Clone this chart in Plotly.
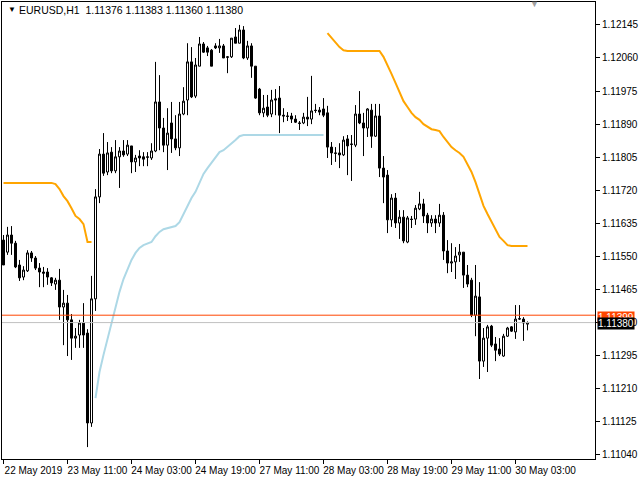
import plotly.graph_objects as go

# ---------------- data (EURUSD, H1) ----------------
opens = [
    1.11592, 1.11561, 1.11605, 1.11584, 1.11528, 1.11497, 1.11513, 1.11559, 1.11546, 1.11520,
    1.11510, 1.11510, 1.11495, 1.11479, 1.11489, 1.11420, 1.11430, 1.11387, 1.11340, 1.11348,
    1.11379, 1.11353, 1.11122, 1.11441, 1.11703, 1.11813, 1.11767, 1.11818, 1.11770, 1.11806,
    1.11821, 1.11813, 1.11834, 1.11793, 1.11808, 1.11806, 1.11806, 1.11803, 1.11821, 1.11947,
    1.11880, 1.11836, 1.11893, 1.11852, 1.11829, 1.11916, 1.11952, 1.12050, 1.11962, 1.12039,
    1.12096, 1.12086, 1.12080, 1.12091, 1.12086, 1.12091, 1.12063, 1.12063, 1.12114, 1.12098,
    1.12132, 1.12060, 1.12091, 1.12039, 1.11980, 1.11919, 1.11934, 1.11916, 1.11955, 1.11957,
    1.11913, 1.11911, 1.11911, 1.11903, 1.11893, 1.11893, 1.11908, 1.11903, 1.11926, 1.11926,
    1.11929, 1.11919, 1.11831, 1.11816, 1.11816, 1.11811, 1.11852, 1.11839, 1.11836, 1.11916,
    1.11893, 1.11880, 1.11926, 1.11859, 1.11911, 1.11777, 1.11759, 1.11644, 1.11700, 1.11636,
    1.11651, 1.11587, 1.11646, 1.11646, 1.11672, 1.11685, 1.11656, 1.11636, 1.11646, 1.11636,
    1.11656, 1.11564, 1.11533, 1.11536, 1.11554, 1.11561, 1.11502, 1.11489, 1.11399, 1.11446,
    1.11281, 1.11340, 1.11371, 1.11325, 1.11312, 1.11294, 1.11345, 1.11369, 1.11356, 1.11389,
    1.11389, 1.11376,
]
highs = [
    1.11605, 1.11626, 1.11628, 1.11590, 1.11541, 1.11525, 1.11566, 1.11564, 1.11551, 1.11533,
    1.11523, 1.11520, 1.11497, 1.11495, 1.11518, 1.11464, 1.11451, 1.11402, 1.11366, 1.11387,
    1.11430, 1.11363, 1.11500, 1.11723, 1.11826, 1.11867, 1.11844, 1.11831, 1.11849, 1.11831,
    1.11849, 1.11849, 1.11834, 1.11811, 1.11823, 1.11818, 1.11818, 1.11841, 1.12050, 1.12016,
    1.11906, 1.11931, 1.11947, 1.11913, 1.11947, 1.11985, 1.12098, 1.12088, 1.12060, 1.12114,
    1.12101, 1.12091, 1.12083, 1.12098, 1.12109, 1.12096, 1.12065, 1.12111, 1.12137, 1.12145,
    1.12142, 1.12104, 1.12098, 1.12039, 1.11983, 1.11965, 1.11965, 1.11978, 1.11980, 1.11988,
    1.11931, 1.11921, 1.11919, 1.11913, 1.11898, 1.11919, 1.11960, 1.12014, 1.11942, 1.11934,
    1.11957, 1.11937, 1.11844, 1.11831, 1.11841, 1.11859, 1.11862, 1.11862, 1.11939, 1.11975,
    1.11919, 1.11931, 1.11942, 1.11942, 1.11942, 1.11808, 1.11772, 1.11710, 1.11713, 1.11669,
    1.11669, 1.11654, 1.11654, 1.11682, 1.11716, 1.11698, 1.11662, 1.11656, 1.11656, 1.11685,
    1.11664, 1.11592, 1.11584, 1.11574, 1.11582, 1.11561, 1.11528, 1.11495, 1.11528, 1.11484,
    1.11366, 1.11374, 1.11374, 1.11343, 1.11340, 1.11351, 1.11369, 1.11371, 1.11425, 1.11425,
    1.11394, 1.11383,
]
lows = [
    1.11528, 1.11554, 1.11554, 1.11520, 1.11487, 1.11489, 1.11510, 1.11536, 1.11515, 1.11471,
    1.11471, 1.11477, 1.11474, 1.11464, 1.11387, 1.11322, 1.11294, 1.11284, 1.11315, 1.11315,
    1.11315, 1.11060, 1.11112, 1.11410, 1.11687, 1.11757, 1.11759, 1.11764, 1.11764, 1.11726,
    1.11806, 1.11808, 1.11764, 1.11767, 1.11782, 1.11782, 1.11782, 1.11798, 1.11818, 1.11823,
    1.11818, 1.11772, 1.11816, 1.11823, 1.11808, 1.11913, 1.11913, 1.11957, 1.11957, 1.12039,
    1.12073, 1.12065, 1.12039, 1.12083, 1.12073, 1.12060, 1.12021, 1.12060, 1.12098, 1.12098,
    1.12057, 1.12055, 1.12009, 1.11955, 1.11913, 1.11908, 1.11908, 1.11908, 1.11913, 1.11867,
    1.11895, 1.11898, 1.11893, 1.11893, 1.11875, 1.11890, 1.11885, 1.11890, 1.11919, 1.11913,
    1.11908, 1.11803, 1.11785, 1.11793, 1.11777, 1.11808, 1.11759, 1.11744, 1.11831, 1.11890,
    1.11808, 1.11857, 1.11829, 1.11857, 1.11754, 1.11687, 1.11610, 1.11626, 1.11623, 1.11595,
    1.11584, 1.11584, 1.11623, 1.11631, 1.11669, 1.11636, 1.11610, 1.11626, 1.11610, 1.11626,
    1.11541, 1.11507, 1.11510, 1.11492, 1.11536, 1.11469, 1.11471, 1.11394, 1.11345, 1.11235,
    1.11266, 1.11253, 1.11317, 1.11281, 1.11294, 1.11292, 1.11343, 1.11356, 1.11338, 1.11387,
    1.11333, 1.11360,
]
closes = [
    1.11528, 1.11605, 1.11584, 1.11523, 1.11495, 1.11515, 1.11559, 1.11546, 1.11520, 1.11510,
    1.11507, 1.11497, 1.11482, 1.11489, 1.11420, 1.11430, 1.11387, 1.11340, 1.11345, 1.11379,
    1.11348, 1.11122, 1.11441, 1.11703, 1.11813, 1.11764, 1.11816, 1.11770, 1.11806, 1.11821,
    1.11811, 1.11836, 1.11793, 1.11803, 1.11803, 1.11800, 1.11805, 1.11821, 1.11947, 1.11880,
    1.11836, 1.11867, 1.11852, 1.11829, 1.11916, 1.11949, 1.12050, 1.11960, 1.12042, 1.12096,
    1.12075, 1.12075, 1.12039, 1.12086, 1.12091, 1.12060, 1.12062, 1.12111, 1.12098, 1.12132,
    1.12060, 1.12091, 1.12039, 1.11957, 1.11919, 1.11931, 1.11913, 1.11952, 1.11952, 1.11913,
    1.11911, 1.11910, 1.11903, 1.11895, 1.11892, 1.11908, 1.11903, 1.11924, 1.11925, 1.11921,
    1.11913, 1.11831, 1.11816, 1.11815, 1.11811, 1.11849, 1.11834, 1.11838, 1.11916, 1.11893,
    1.11880, 1.11929, 1.11859, 1.11911, 1.11777, 1.11754, 1.11644, 1.11700, 1.11636, 1.11651,
    1.11590, 1.11649, 1.11645, 1.11674, 1.11685, 1.11654, 1.11636, 1.11646, 1.11636, 1.11656,
    1.11564, 1.11533, 1.11536, 1.11551, 1.11561, 1.11502, 1.11479, 1.11399, 1.11448, 1.11281,
    1.11340, 1.11369, 1.11322, 1.11309, 1.11299, 1.11345, 1.11366, 1.11358, 1.11389, 1.11390,
    1.11379, 1.11380,
]

# trend indicator: upper (orange) and lower (light blue) lines, None where not drawn
trend_upper = (
    [1.11739] * 13
    + [1.11736, 1.11723, 1.11705, 1.11692, 1.11674, 1.11654, 1.11646, 1.11633, 1.11587, 1.11587]
    + [None] * 58
    + [1.12124, 1.12111, 1.12098, 1.12088, 1.12080]
    + [1.12078] * 9
    + [1.12063, 1.12039, 1.12019, 1.11996, 1.11973, 1.11949, 1.11934, 1.11919, 1.11908, 1.11901,
       1.11890, 1.11883, 1.11877, 1.11875, 1.11872, 1.11857, 1.11844, 1.11831, 1.11823, 1.11816,
       1.11806, 1.11788, 1.11767, 1.11741, 1.11708, 1.11680, 1.11659, 1.11638, 1.11618, 1.11600,
       1.11590, 1.11579]
    + [1.11577] * 5
)
trend_lower = (
    [None] * 23
    + [1.11186, 1.11253, 1.11297, 1.11338, 1.11376, 1.11417, 1.11459, 1.11492, 1.11518, 1.11541,
       1.11559, 1.11572, 1.11579, 1.11584, 1.11587, 1.11602, 1.11613, 1.11620, 1.11623, 1.11626,
       1.11628, 1.11638, 1.11659, 1.11680, 1.11700, 1.11716, 1.11739, 1.11762, 1.11777, 1.11790,
       1.11806, 1.11818, 1.11823, 1.11831, 1.11839, 1.11849, 1.11859]
    + [1.11862] * 21
    + [None] * 51
)

time_label_bars = [0, 16, 32, 48, 64, 80, 96, 112, 128]
time_labels = ["22 May 2019", "23 May 11:00", "24 May 03:00", "24 May 19:00",
               "27 May 11:00", "28 May 03:00", "28 May 19:00", "29 May 11:00", "30 May 03:00"]
price_ticks = [1.12145, 1.12060, 1.11975, 1.11890, 1.11805, 1.11720, 1.11635,
               1.11550, 1.11465, 1.11380, 1.11295, 1.11210, 1.11125, 1.11040]
ask_price = 1.11399
bid_price = 1.11380
header = "EURUSD,H1  1.11376 1.11383 1.11360 1.11380"

bars = list(range(len(opens)))
FONT = "Liberation Sans"

fig = go.Figure()
fig.add_trace(go.Scatter(x=bars, y=trend_upper, mode="lines",
                         line=dict(color="#FFA500", width=2), hoverinfo="skip"))
fig.add_trace(go.Scatter(x=bars, y=trend_lower, mode="lines",
                         line=dict(color="#ADD8E6", width=2), hoverinfo="skip"))
fig.add_trace(go.Candlestick(
    x=bars, open=opens, high=highs, low=lows, close=closes,
    increasing=dict(line=dict(color="black", width=1), fillcolor="white"),
    decreasing=dict(line=dict(color="black", width=1), fillcolor="black"),
    whiskerwidth=0, hoverinfo="skip",
))

fig.add_hline(y=ask_price, line=dict(color="#FF4500", width=1), layer="above")
fig.add_hline(y=bid_price, line=dict(color="#C0C0C0", width=1), layer="above")

fig.update_layout(
    width=640, height=480,
    margin=dict(l=2, r=45, t=2, b=21, pad=0, autoexpand=False),
    paper_bgcolor="white", plot_bgcolor="white",
    showlegend=False,
    boxgap=0.5, boxgroupgap=0,
    font=dict(family=FONT, size=10, color="black"),
    xaxis=dict(
        range=[-0.375, 147.875], tickmode="array", tickvals=time_label_bars, ticktext=time_labels,
        ticks="outside", ticklen=4, tickcolor="black", showline=True, linecolor="black",
        linewidth=1, mirror=True, showgrid=False, zeroline=False, automargin=False,
        rangeslider=dict(visible=False), ticklabelshift=30, ticklabelstandoff=-2,
        tickfont=dict(family=FONT, size=10, color="black"),
    ),
    yaxis=dict(
        side="right", range=[1.110294, 1.122039], tickmode="array", tickvals=price_ticks,
        ticktext=[f"{v:.5f}" for v in price_ticks], automargin=False,
        ticks="outside", ticklen=4, tickcolor="black", showline=True, linecolor="black",
        linewidth=1, mirror=True, showgrid=False, zeroline=False,
        tickfont=dict(family=FONT, size=10, color="black"),
    ),
    annotations=[
        dict(text="▼", xref="paper", yref="paper", x=0.006, y=0.983, xanchor="left",
             yanchor="middle", showarrow=False, font=dict(family=FONT, size=8, color="black")),
        dict(text=header, xref="paper", yref="paper", x=0.025, y=0.983, xanchor="left",
             yanchor="middle", showarrow=False, font=dict(family=FONT, size=10.5, color="black")),
        dict(text="▼", xref="paper", yref="paper", x=0.898, y=0.995, xanchor="center",
             yanchor="middle", showarrow=False, font=dict(family=FONT, size=9, color="#A0A0A0")),
        dict(text=f"{ask_price:.5f}", xref="paper", yref="y", x=1, y=ask_price, xshift=2,
             yshift=-2, xanchor="left", yanchor="middle", showarrow=False, bgcolor="#FF4500",
             borderpad=0, font=dict(family=FONT, size=10, color="white")),
        dict(text=f"{bid_price:.5f}", xref="paper", yref="y", x=1, y=bid_price, xshift=2,
             yshift=-1, xanchor="left", yanchor="middle", showarrow=False, bgcolor="black",
             borderpad=0, font=dict(family=FONT, size=10, color="white")),
    ],
)

fig.write_html("out.html", config={"displayModeBar": False},
               post_script="document.body.style.margin='0';document.body.style.padding='0';")
